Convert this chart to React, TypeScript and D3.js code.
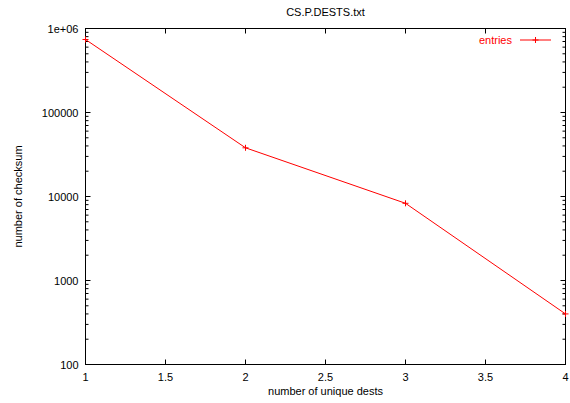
import React from "react";
import * as d3 from "d3";

const xValues = [1, 2, 3, 4];
const entries = [740000, 38000, 8300, 400];
const xTicks = [1, 1.5, 2, 2.5, 3, 3.5, 4];
const yTicks = [100, 1000, 10000, 100000, 1000000];
const yTickLabels = ["100", "1000", "10000", "100000", "1e+06"];
const title = "CS.P.DESTS.txt";
const xLabel = "number of unique dests";
const yLabel = "number of checksum";
const seriesName = "entries";

export default function App() {
  const W = 570, H = 403;
  const L = 85.5, R = 565.5, T = 28.5, B = 364.5;
  const x = d3.scaleLinear().domain([1, 4]).range([L, R]);
  const y = d3.scaleLog().domain([100, 1000000]).range([B, T]);
  const font = "Liberation Sans, Arial, sans-serif";
  const minors: number[] = [];
  for (let e = 2; e < 6; e++) for (let m = 2; m <= 9; m++) minors.push(m * Math.pow(10, e));
  const line = d3.line<number>().x((_, i) => x(xValues[i])).y((d) => y(d));
  const red = "#ff0000";
  const plus = (cx: number, cy: number, k: string) => (
    <path key={k} d={`M${cx - 3},${cy}H${cx + 3}M${cx},${cy - 3}V${cy + 3}`} stroke={red} strokeWidth={1} />
  );
  return (
    <svg width={W} height={H} style={{ position: "absolute", left: 0, top: 0 }} fontFamily={font}>
      <rect width={W} height={H} fill="#fff" />
      {xTicks.map((t) => (
        <g key={"x" + t}>
          <line x1={x(t)} x2={x(t)} y1={B} y2={B - 5} stroke="#000" />
          <line x1={x(t)} x2={x(t)} y1={T} y2={T + 5} stroke="#000" />
          <text x={x(t)} y={B + 16} fontSize={11} textAnchor="middle">{t}</text>
        </g>
      ))}
      {yTicks.map((t, i) => (
        <g key={"y" + t}>
          <line x1={L} x2={L + 5} y1={y(t)} y2={y(t)} stroke="#000" />
          <line x1={R} x2={R - 5} y1={y(t)} y2={y(t)} stroke="#000" />
          <text x={L - 7} y={y(t) + 4} fontSize={11} textAnchor="end">{yTickLabels[i]}</text>
        </g>
      ))}
      {minors.map((t) => (
        <g key={"m" + t}>
          <line x1={L} x2={L + 3} y1={y(t)} y2={y(t)} stroke="#000" />
          <line x1={R} x2={R - 3} y1={y(t)} y2={y(t)} stroke="#000" />
        </g>
      ))}
      <rect x={L} y={T} width={R - L} height={B - T} fill="none" stroke="#000" />
      <path d={line(entries) || ""} fill="none" stroke={red} strokeWidth={1} />
      {entries.map((v, i) => plus(x(xValues[i]), y(v), "p" + i))}
      <text x={512} y={44} fontSize={11} textAnchor="end" fill={red}>{seriesName}</text>
      <line x1={520} x2={551} y1={40} y2={40} stroke={red} />
      {plus(535.5, 40, "leg")}
      <text x={(L + R) / 2} y={16} fontSize={11} textAnchor="middle">{title}</text>
      <text x={(L + R) / 2} y={395} fontSize={11} textAnchor="middle">{xLabel}</text>
      <text transform={`translate(22,${(T + B) / 2}) rotate(-90)`} fontSize={11} textAnchor="middle">{yLabel}</text>
    </svg>
  );
}
